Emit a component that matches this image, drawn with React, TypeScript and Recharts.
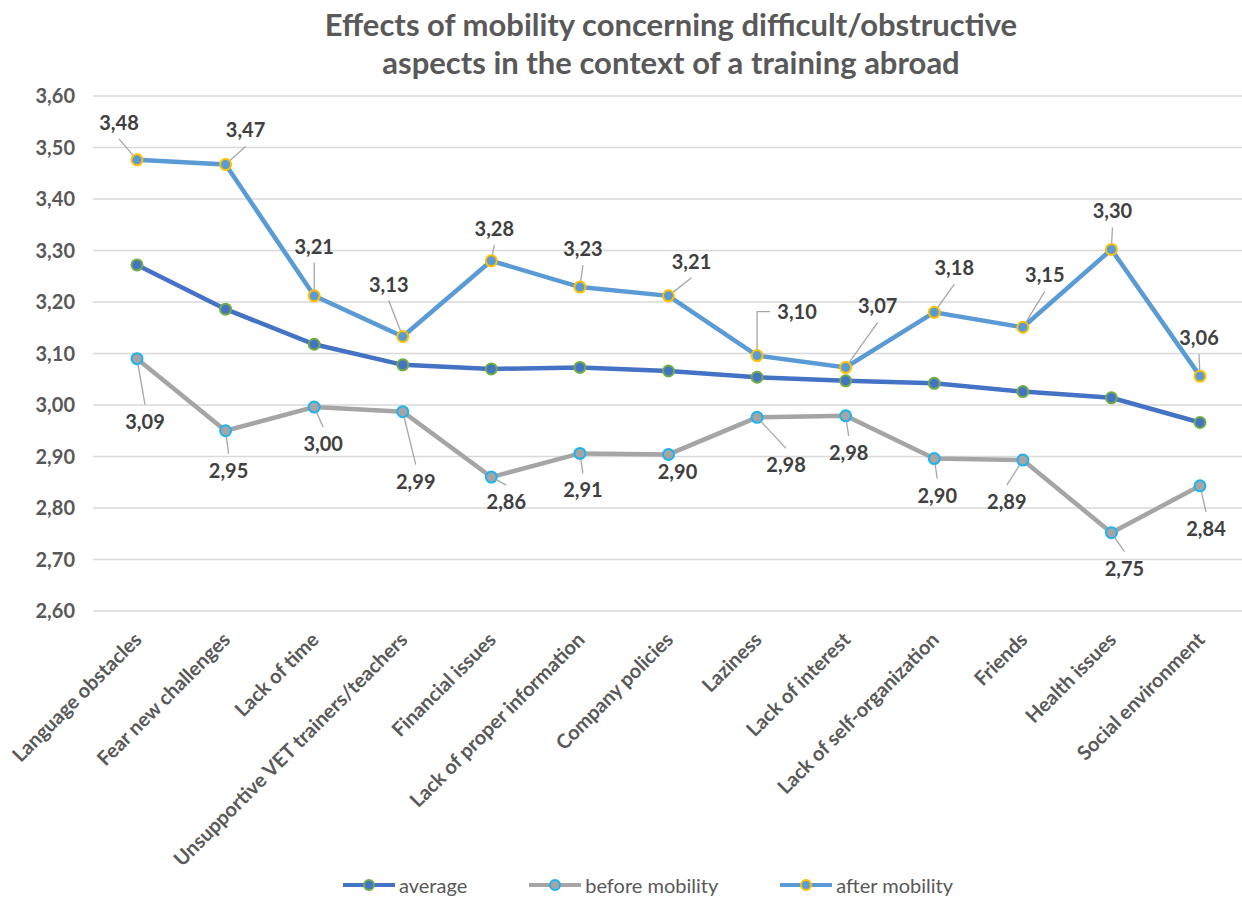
import React from 'react';
import { LineChart, Line, XAxis, YAxis, CartesianGrid, Legend, LabelList } from 'recharts';

const categories = [
  'Language obstacles',
  'Fear new challenges',
  'Lack of time',
  'Unsupportive VET trainers/teachers',
  'Financial issues',
  'Lack of proper information',
  'Company policies',
  'Laziness',
  'Lack of interest',
  'Lack of self-organization',
  'Friends',
  'Health issues',
  'Social environment',
];

const averageValues = [3.272, 3.186, 3.118, 3.078, 3.07, 3.073, 3.066, 3.054, 3.047, 3.042, 3.026, 3.014, 2.966];
const beforeValues = [3.09, 2.95, 2.996, 2.987, 2.86, 2.906, 2.904, 2.976, 2.979, 2.896, 2.893, 2.752, 2.843];
const afterValues = [3.476, 3.467, 3.212, 3.133, 3.28, 3.229, 3.212, 3.096, 3.073, 3.18, 3.151, 3.302, 3.056];

const yTicks = [2.6, 2.7, 2.8, 2.9, 3.0, 3.1, 3.2, 3.3, 3.4, 3.5, 3.6];

const seriesNames = ['average', 'before mobility', 'after mobility'];

// label placement offsets (px) relative to each point
const afterLabelOffsets = [
  [-18, -37], [20, -34], [0, -49], [-14, -52], [3, -32], [3, -38], [23, -34],
  [40, -44], [32, -61], [20, -44], [22, -52], [1, -38], [-1, -38],
];
const beforeLabelOffsets = [
  [8, 63], [3, 40], [9, 37], [13, 70], [15, 25], [3, 37], [9, 18],
  [29, 48], [3, 37], [3, 37], [-16, 42], [13, 36], [6, 43],
];

const data = categories.map((c, i) => ({
  name: c,
  average: averageValues[i],
  before: beforeValues[i],
  after: afterValues[i],
}));

const FONT = 'Lato, "Open Sans", sans-serif';
const fmt = (v: number) => v.toFixed(2).replace('.', ',');

const COLORS = {
  average: { line: '#4472C4', dot: '#4472C4', ring: '#70AD47' },
  before: { line: '#A5A5A5', dot: '#A5A5A5', ring: '#1FB3EE' },
  after: { line: '#5B9BD5', dot: '#5B9BD5', ring: '#FFC000' },
};

function makeLabel(offsets: number[][], below: boolean) {
  return (props: any) => {
    const { x, y, value, index } = props;
    const [dx, dy] = offsets[index];
    const cx = x + dx;
    const cy = y + dy;
    const hw = 20;
    const hh = below ? 17 : 16;
    const r = 6;
    let path = '';
    if (Math.abs(dx) > hw + 16) {
      const ex = cx - Math.sign(dx) * (hw + 7);
      const sy = y + Math.sign(dy) * r;
      path = `M${x},${sy}V${cy}H${ex}`;
    } else {
      const tx = cx;
      const ty = cy + (below ? -hh : hh);
      const vx = tx - x;
      const vy = ty - y;
      const d = Math.hypot(vx, vy);
      if (d > r + 6) path = `M${x + (vx / d) * r},${y + (vy / d) * r}L${tx},${ty}`;
    }
    return (
      <g>
        {path && <path d={path} stroke="#A6A6A6" strokeWidth={1.3} fill="none" />}
        <text
          x={cx}
          y={cy + 7}
          textAnchor="middle"
          fill="#404040"
          fontSize={20}
          fontWeight="bold"
          fontFamily={FONT}
        >
          {fmt(Number(value))}
        </text>
      </g>
    );
  };
}

const XTick = (props: any) => {
  const { x, y, payload } = props;
  const ax = x + 6;
  const ay = y + 30;
  return (
    <text
      x={ax}
      y={ay}
      transform={`rotate(-45, ${ax}, ${ay})`}
      textAnchor="end"
      fill="#595959"
      fontSize={20}
      fontWeight="bold"
      fontFamily={FONT}
    >
      {payload.value}
    </text>
  );
};

const LegendIcon = ({ c }: { c: { line: string; dot: string; ring: string } }) => (
  <svg width={52} height={14} style={{ display: 'block' }}>
    <line x1={0} y1={7} x2={52} y2={7} stroke={c.line} strokeWidth={4} />
    <circle cx={26} cy={7} r={5} fill={c.dot} stroke={c.ring} strokeWidth={2} />
  </svg>
);

const renderLegend = () => {
  const items = [
    { label: seriesNames[0], c: COLORS.average },
    { label: seriesNames[1], c: COLORS.before },
    { label: seriesNames[2], c: COLORS.after },
  ];
  return (
    <div
      style={{
        display: 'flex',
        justifyContent: 'center',
        alignItems: 'center',
        height: 30,
        paddingLeft: 54,
        gap: 62,
        fontFamily: FONT,
        fontSize: 20,
        color: '#595959',
      }}
    >
      {items.map((it) => (
        <div key={it.label} style={{ display: 'flex', alignItems: 'center', gap: 4 }}>
          <LegendIcon c={it.c} />
          <span>{it.label}</span>
        </div>
      ))}
    </div>
  );
};

export default function App() {
  return (
    <div
      style={{
        position: 'absolute',
        left: 0,
        top: 0,
        width: 1242,
        height: 900,
        overflow: 'hidden',
        background: '#ffffff',
        fontFamily: FONT,
      }}
    >
      <LineChart
        width={1250}
        height={900}
        data={data}
        margin={{ top: 96, right: 6, bottom: 0, left: 0 }}
      >
        <CartesianGrid vertical={false} stroke="#D9D9D9" strokeWidth={1.5} />
        <XAxis
          dataKey="name"
          interval={0}
          padding={{ left: 44, right: 44 }}
          axisLine={false}
          tickLine={false}
          tickSize={0}
          tickMargin={0}
          height={259}
          tick={<XTick />}
        />
        <YAxis
          domain={[2.6, 3.6]}
          ticks={yTicks}
          width={93}
          axisLine={false}
          tickLine={false}
          tickSize={0}
          tickMargin={18}
          tickFormatter={(v: number) => fmt(v)}
          tick={{ fill: '#595959', fontSize: 20, fontWeight: 'bold', fontFamily: FONT }}
        />
        <Legend
          verticalAlign="bottom"
          content={renderLegend}
          wrapperStyle={{ left: 0, width: 1242, height: 30 }}
        />
        <Line
          type="linear"
          dataKey="average"
          name={seriesNames[0]}
          stroke={COLORS.average.line}
          strokeWidth={4.5}
          dot={{ r: 5.5, fill: COLORS.average.dot, stroke: COLORS.average.ring, strokeWidth: 2 }}
          activeDot={false}
          isAnimationActive={false}
        />
        <Line
          type="linear"
          dataKey="before"
          name={seriesNames[1]}
          stroke={COLORS.before.line}
          strokeWidth={4.5}
          dot={{ r: 5.5, fill: COLORS.before.dot, stroke: COLORS.before.ring, strokeWidth: 2 }}
          activeDot={false}
          isAnimationActive={false}
        >
          <LabelList dataKey="before" content={makeLabel(beforeLabelOffsets, true)} />
        </Line>
        <Line
          type="linear"
          dataKey="after"
          name={seriesNames[2]}
          stroke={COLORS.after.line}
          strokeWidth={4.5}
          dot={{ r: 5.5, fill: COLORS.after.dot, stroke: COLORS.after.ring, strokeWidth: 2 }}
          activeDot={false}
          isAnimationActive={false}
        >
          <LabelList dataKey="after" content={makeLabel(afterLabelOffsets, false)} />
        </Line>
      </LineChart>
      <div
        style={{
          position: 'absolute',
          left: 100,
          width: 1142,
          top: 5,
          textAlign: 'center',
          fontSize: 31,
          fontWeight: 'bold',
          lineHeight: '38px',
          color: '#595959',
          fontFamily: FONT,
        }}
      >
        Effects of mobility concerning difficult/obstructive
        <br />
        aspects in the context of a training abroad
      </div>
    </div>
  );
}
